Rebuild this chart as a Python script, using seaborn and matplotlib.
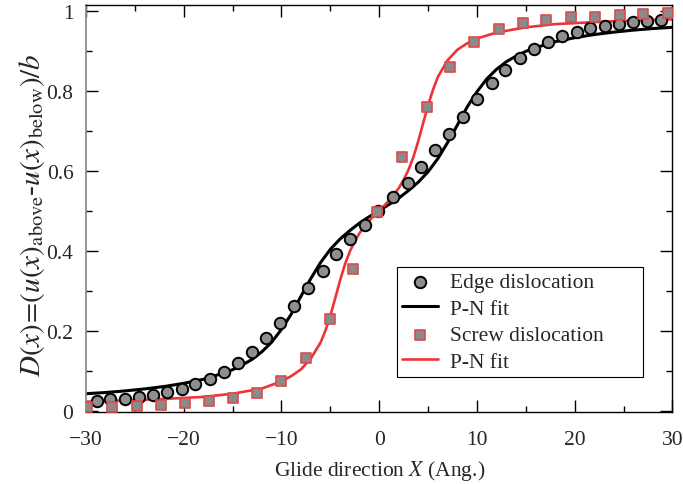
import numpy as np
import pandas as pd
import matplotlib
matplotlib.use("Agg")
import matplotlib.pyplot as plt
from matplotlib.ticker import MultipleLocator
from matplotlib.collections import PathCollection
import seaborn as sns

# ---------------- data ----------------
edge_x = [-28.9, -27.5, -26.0, -24.6, -23.1, -21.7, -20.2, -18.8, -17.3, -15.9,
          -14.5, -13.0, -11.6, -10.2, -8.75, -7.3, -5.8, -4.4, -3.0, -1.5,
          -0.1, 1.4, 2.9, 4.3, 5.7, 7.1, 8.6, 10.0, 11.5, 12.9,
          14.4, 15.8, 17.3, 18.7, 20.2, 21.6, 23.1, 24.5, 26.0, 27.4, 28.8]
edge_y = [0.024, 0.028, 0.030, 0.035, 0.039, 0.046, 0.053, 0.066, 0.078, 0.096,
          0.119, 0.146, 0.181, 0.219, 0.262, 0.306, 0.350, 0.391, 0.428, 0.464,
          0.499, 0.535, 0.570, 0.610, 0.651, 0.691, 0.735, 0.779, 0.818, 0.852,
          0.881, 0.904, 0.922, 0.936, 0.947, 0.956, 0.962, 0.967, 0.971, 0.974, 0.977]

screw_x = [-29.9, -27.3, -24.8, -22.3, -19.9, -17.4, -15.0, -12.5, -10.0, -7.5,
           -5.0, -2.65, -0.2, 2.3, 4.85, 7.25, 9.7, 12.25, 14.7, 17.1,
           19.6, 22.1, 24.6, 27.0, 29.5]
screw_y = [0.009, 0.010, 0.012, 0.015, 0.019, 0.024, 0.031, 0.044, 0.073, 0.131,
           0.228, 0.354, 0.496, 0.633, 0.758, 0.858, 0.922, 0.954, 0.969, 0.977,
           0.983, 0.985, 0.989, 0.991, 0.993]

edge_fit_x = [-30, -28, -26, -24, -22, -20, -18, -16, -15, -14, -13, -12, -11, -10,
              -9, -8, -7, -6, -5, -4, -3, -2, -1, 0, 1, 2, 3, 4, 5, 6, 7, 8, 9,
              10, 11, 12, 13, 14, 15, 16, 18, 20, 22, 24, 26, 28, 30]
edge_fit_y = [0.042, 0.045, 0.049, 0.054, 0.060, 0.068, 0.078, 0.093, 0.102, 0.114,
              0.128, 0.147, 0.171, 0.203, 0.241, 0.286, 0.330, 0.370, 0.403, 0.429,
              0.450, 0.469, 0.485, 0.500, 0.515, 0.531, 0.550, 0.571, 0.597, 0.630,
              0.670, 0.714, 0.759, 0.797, 0.829, 0.853, 0.872, 0.886, 0.898, 0.907,
              0.922, 0.932, 0.940, 0.946, 0.951, 0.955, 0.958]

screw_fit_x = [-30, -26, -22, -18, -15, -12, -10, -9, -8, -7, -6, -5.5, -5, -4.5,
               -4, -3.5, -3, -2.5, -2, -1.5, -1, -0.5, 0, 0.5, 1, 1.5, 2, 2.5, 3,
               3.5, 4, 4.5, 5, 5.5, 6, 7, 8, 9, 10, 12, 15, 18, 22, 26, 30]
screw_fit_y = [0.022, 0.025, 0.029, 0.034, 0.042, 0.055, 0.073, 0.086, 0.103, 0.130,
               0.170, 0.200, 0.237, 0.281, 0.326, 0.366, 0.398, 0.423, 0.444, 0.460,
               0.475, 0.488, 0.500, 0.512, 0.525, 0.540, 0.556, 0.577, 0.602, 0.634,
               0.674, 0.719, 0.763, 0.802, 0.834, 0.876, 0.902, 0.918, 0.930, 0.945,
               0.958, 0.966, 0.971, 0.975, 0.978]

x_ticks = [-30, -20, -10, 0, 10, 20, 30]
x_ticklabels = ["\u221230", "\u221220", "\u221210", "0", "10", "20", "30"]
y_ticks = [0, 0.2, 0.4, 0.6, 0.8, 1.0]
y_ticklabels = ["0", "0.2", "0.4", "0.6", "0.8", "1"]

labels = ["Edge dislocation", "P-N fit", "Screw dislocation", "P-N fit"]

# ---------------- style ----------------
sns.set_style("ticks")
plt.rcParams["font.family"] = ["Liberation Serif", "DejaVu Serif"]
plt.rcParams["mathtext.fontset"] = "stix"

FS = 15.5

fig = plt.figure(figsize=(6.83, 4.85), dpi=100)
ax = fig.add_axes([0.1259, 0.1478, 0.8587, 0.8404])

edge_df = pd.DataFrame({"x": edge_x, "y": edge_y})
screw_df = pd.DataFrame({"x": screw_x, "y": screw_y})
efit_df = pd.DataFrame({"x": edge_fit_x, "y": edge_fit_y})
sfit_df = pd.DataFrame({"x": screw_fit_x, "y": screw_fit_y})

sns.lineplot(data=efit_df, x="x", y="y", ax=ax, color="black", lw=2.2,
             sort=False, zorder=2, errorbar=None)
sns.lineplot(data=sfit_df, x="x", y="y", ax=ax, color="#ee3338", lw=1.9,
             sort=False, zorder=2, errorbar=None)
sns.scatterplot(data=edge_df, x="x", y="y", ax=ax, marker="o", s=68,
                color="#8e8e8e", edgecolor="black", linewidth=1.4, zorder=3)
sns.scatterplot(data=screw_df, x="x", y="y", ax=ax, marker="s", s=52,
                color="#8a8a8a", edgecolor="#e04848", linewidth=1.2, zorder=4)

lines = ax.get_lines()
pcs = [c for c in ax.collections if isinstance(c, PathCollection)]
handles = [pcs[0], lines[0], pcs[1], lines[1]]
leg = ax.legend(handles, labels, loc="lower left",
                bbox_to_anchor=(0.53, 0.086, 0.42, 0.27), mode="expand",
                fontsize=FS, frameon=True, fancybox=False, framealpha=1,
                edgecolor="black", handlelength=1.65, handletextpad=0.55,
                labelspacing=0.3, borderpad=0.25, scatterpoints=1,
                borderaxespad=0)
leg.get_frame().set_linewidth(0.8)

ax.set_xlim(-30, 30)
ax.set_ylim(-0.0045, 1.0145)
ax.set_xticks(x_ticks)
ax.set_xticklabels(x_ticklabels)
ax.set_yticks(y_ticks)
ax.set_yticklabels(y_ticklabels)
ax.xaxis.set_minor_locator(MultipleLocator(5))
ax.yaxis.set_minor_locator(MultipleLocator(0.1))
ax.tick_params(which="both", direction="in", top=True, right=True,
               width=1.0, color="black", labelsize=FS)
ax.tick_params(axis="x", pad=13)
ax.tick_params(axis="y", pad=9)
ax.tick_params(which="major", length=8.5)
ax.tick_params(which="minor", length=4.5)

for side in ["top", "right", "bottom"]:
    ax.spines[side].set_color("black")
    ax.spines[side].set_linewidth(1.0)
ax.spines["left"].set_color("#8c8c8c")
ax.spines["left"].set_linewidth(1.3)

ax.set_xlabel("Glide direction $X$ (Ang.)", fontsize=FS, labelpad=6)
ax.set_ylabel(r"$D(x)\!=\!(u(x)_{\mathrm{above}}$-$u(x)_{\mathrm{below}})/b$",
              fontsize=21)
ax.yaxis.set_label_coords(-0.067, 0.487)

fig.savefig("out.png", dpi=100)
